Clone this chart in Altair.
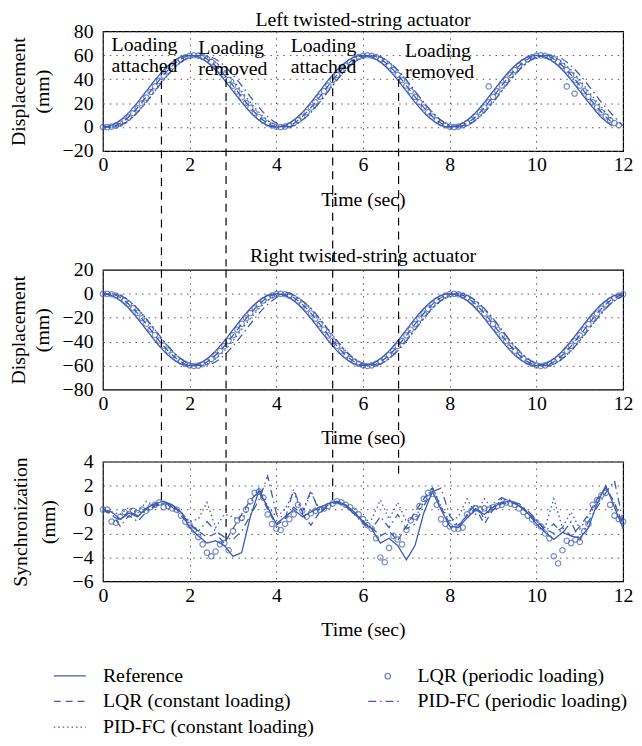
import altair as alt
import pandas as pd

BLUE = "#3d5cb3"
FONT = "Liberation Serif"

# ---------------- series names / legend order (column-major, 3 rows) ----------------
SERIES = ["Reference", "LQR (constant loading)", "PID-FC (constant loading)",
          "LQR (periodic loading)", "PID-FC (periodic loading)"]
# the periodic LQR run is drawn with circles, so its line sample is left empty
DASHES = [[1, 0], [7, 5], [1.5, 3], [0, 1000], [8, 4, 1.5, 4]]
CIRCLE_SERIES = ["LQR (periodic loading)"]

# ---------------- time grids ----------------
T_LINE = [i * 0.25 for i in range(49)]     # 0 .. 12 s
T_CIRC = [i * 0.1 for i in range(121)]     # 0 .. 12 s
T_SYNC = [i * 0.2 for i in range(61)]      # 0 .. 12 s
T_SYNC_C = [i * 0.1 for i in range(121)]   # 0 .. 12 s

# ---------------- Left twisted-string actuator (mm) ----------------
L_REF = [0, 2.3, 8.8, 18.5, 30, 41.5, 51.2, 57.7, 60, 57.7, 51.2, 41.5, 30, 18.5, 8.8, 2.3,
         0, 2.3, 8.8, 18.5, 30, 41.5, 51.2, 57.7, 60, 57.7, 51.2, 41.5, 30, 18.5, 8.8, 2.3,
         0, 2.3, 8.8, 18.5, 30, 41.5, 51.2, 57.7, 60, 57.7, 51.2, 41.5, 30, 18.5, 8, 1, None]
L_LQRC = [0, 0.8, 5.7, 14.3, 25.3, 37, 47.6, 55.6, 59.6, 59.2, 54.3, 45.7, 34.7, 23, 12.4, 4.4,
          0.4, 0.8, 5.7, 14.3, 25.3, 37, 47.6, 55.6, 59.6, 59.2, 54.3, 45.7, 34.7, 23, 12.4, 4.4,
          0.4, 0.8, 5.7, 14.3, 25.3, 37, 47.6, 55.6, 59.6, 59.2, 54.3, 45.7, 34.7, 23, 12.4, 3.5, None]
L_PIDC = [0, 0.1, 3.3, 10.5, 20.7, 32.4, 43.6, 52.8, 58.5, 59.9, 56.7, 49.5, 39.3, 27.6, 16.4, 7.2,
          1.5, 0.1, 3.3, 10.5, 20.7, 32.4, 43.6, 52.8, 58.5, 59.9, 56.7, 49.5, 39.3, 27.6, 16.4, 7.2,
          1.5, 0.1, 3.3, 10.5, 20.7, 32.4, 43.6, 52.8, 58.5, 59.9, 56.7, 49.5, 39.3, 27.6, 16.4, 6, None]
L_PIDP = [0, 0.1, 3.3, 10.5, 20.7, 32.4, 43.6, 52.8, 58.5,
          59.9, 58.5, 52.8, 43.6, 32.4, 20.7, 10.5, 3.3,
          0.1, 3.3, 10.5, 20.7, 32.4, 43.6, 52.8, 58.5, 59.9, 56.7, 49.5, 39.3, 27.6, 16.4, 7.2, 1.5,
          0.1, 3.3, 10.5, 20.7, 32.4, 43.6, 52.8, 58.5, 59.9, 58.5, 52.8, 43.6, 32.4, 20.7, 10.5, 1.0]
L_LQRP = [0, 0, 0.4, 1.2, 2.9, 5.2, 8.1, 11.6, 15.6, 19.9, 24.6, 29.3, 34.0, 38.6, 43.0, 47.1,
          50.8, 54.0, 56.5, 58.4, 59.5, 60.0, 59.7, 58.7, 56.9, 54.5, 51.5, 47.9, 43.8, 39.3,
          34.6, 29.8, 25.0, 20.3, 16.0, 12.0, 8.4, 5.4, 3.0, 1.3,
          0.3, 0.0, 0.4, 1.5, 3.3, 5.8, 8.8, 12.4, 16.4, 20.7, 25.3, 30.0, 34.7, 39.3, 43.6, 47.6,
          51.2, 54.3, 56.7, 58.5, 59.6, 60.0, 59.6, 58.5, 56.7, 54.3, 51.2, 47.6, 43.6, 39.3,
          34.7, 30.0, 25.3, 20.7, 16.4, 12.4, 8.8, 5.7, 3.3, 1.5,
          0.4, 0.0, 0.4, 1.5, 3.3, 5.7, 8.8, 12.4, 16.4, 20.7, 25.3, 30.0, 34.7, 39.3, 43.6, 47.6,
          51.2, 54.3, 56.7, 58.5, 59.6, 60.0, 59.6, 58.5, 56.7, 54.3, 51.2, 47.6, 43.6, 39.3,
          34.7, 30.0, 25.3, 20.7, 16.4, 12.4, 8.8, 5.7, 3.3, 1.5, None]
L_OUT_T = [8.9, 10.7, 10.88]
L_OUT_V = [34, 34, 28]

# ---------------- Right twisted-string actuator (mm) ----------------
R_REF = [0, -2.3, -8.8, -18.5, -30, -41.5, -51.2, -57.7, -60, -57.7, -51.2, -41.5, -30, -18.5, -8.8, -2.3,
         0, -2.3, -8.8, -18.5, -30, -41.5, -51.2, -57.7, -60, -57.7, -51.2, -41.5, -30, -18.5, -8.8, -2.3,
         0, -2.3, -8.8, -18.5, -30, -41.5, -51.2, -57.7, -60, -57.7, -51.2, -41.5, -30, -18.5, -8.8, -2.3, 0]
R_LQRC = [0, -0.8, -5.7, -14.3, -25.3, -37, -47.6, -55.6, -59.6, -59.2, -54.3, -45.7, -34.7, -23, -12.4, -4.4,
          -0.4, -0.8, -5.7, -14.3, -25.3, -37, -47.6, -55.6, -59.6, -59.2, -54.3, -45.7, -34.7, -23, -12.4, -4.4,
          -0.4, -0.8, -5.7, -14.3, -25.3, -37, -47.6, -55.6, -59.6, -59.2, -54.3, -45.7, -34.7, -23, -12.4, -4.4, -0.4]
R_PIDC = [0, -0.1, -3.3, -10.5, -20.7, -32.4, -43.6, -52.8, -58.5, -59.9, -56.7, -49.5, -39.3, -27.6, -16.4, -7.2,
          -1.5, -0.1, -3.3, -10.5, -20.7, -32.4, -43.6, -52.8, -58.5, -59.9, -56.7, -49.5, -39.3, -27.6, -16.4, -7.2,
          -1.5, -0.1, -3.3, -10.5, -20.7, -32.4, -43.6, -52.8, -58.5, -59.9, -56.7, -49.5, -39.3, -27.6, -16.4, -7.2, -1.5]
R_PIDP = [0, -0.1, -3.3, -10.5, -20.7, -32.4, -43.6, -52.8, -58.5,
          -59.9, -58.5, -52.8, -43.6, -32.4, -20.7, -10.5, -3.3,
          1.0, -3.3, -10.5, -20.7, -32.4, -43.6, -52.8, -58.5, -59.9, -56.7, -49.5, -39.3, -27.6, -16.4, -7.2, -1.5,
          0.5, -3.3, -10.5, -20.7, -32.4, -43.6, -52.8, -58.5, -59.9, -56.7, -49.5, -39.3, -27.6, -16.4, -7.2, -1.5]
R_LQRP = [0, 0, -0.4, -1.4, -3.1, -5.5, -8.5, -12.0, -16.0, -20.3, -25.0, -29.7, -34.4, -39.0, -43.3, -47.4,
          -51.0, -54.1, -56.6, -58.5, -59.8, -60.3, -60.0, -58.9, -57.0, -54.5, -51.4, -47.8, -43.7, -39.3,
          -34.6, -29.9, -25.1, -20.5, -16.1, -12.1, -8.5, -5.5, -3.1, -1.4,
          -0.3, 0.0, -0.4, -1.5, -3.3, -5.7, -8.8, -12.4, -16.4, -20.7, -25.3, -30.0, -34.7, -39.3, -43.6, -47.6,
          -51.2, -54.3, -56.7, -58.5, -59.8, -60.3, -59.8, -58.5, -56.7, -54.3, -51.2, -47.6, -43.6, -39.3,
          -34.7, -30.0, -25.3, -20.7, -16.4, -12.4, -8.8, -5.7, -3.3, -1.5,
          -0.4, 0.0, -0.4, -1.5, -3.3, -5.7, -8.8, -12.4, -16.4, -20.7, -25.3, -30.0, -34.7, -39.3, -43.6, -47.6,
          -51.2, -54.3, -56.7, -58.5, -59.8, -60.3, -59.8, -58.5, -56.7, -54.3, -51.2, -47.6, -43.6, -39.3,
          -34.7, -30.0, -25.3, -20.7, -16.4, -12.4, -8.8, -5.7, -3.3, -1.5, -0.4]

# ---------------- Synchronization (mm) ----------------
S_REF = [0, -0.2, -0.8, -0.3, -0.6, 0.1, 0.5, 0.7, 0.4, -0.2, -1.5,
         -2.2, -2.8, -2.6, -3.0, -3.9, -3.6, -0.6, 1.6, 0.2, -1.2,
         -0.6, 0.0, -0.6, -0.2, 0.2, 0.5, 0.7, 0.4, -0.2, -1.0,
         -1.6, -2.8, -2.4, -3.0, -4.2, -3.0, -0.3, 1.5, 0.0, -1.4,
         -1.5, -0.7, 0.0, -0.4, 0.2, 0.6, 0.7, 0.3, -0.3, -1.2,
         -1.9, -2.5, -1.9, -2.2, -2.4, -1.5, 0.5, 2.0, 0.2, -1.6]
S_LQRC = [0, -0.5, -0.9, -0.2, -0.5, 0.0, 0.4, 0.6, 0.3, -0.3, -1.2,
          -1.8, -2.3, -2.0, -2.8, -1.6, -0.4, 0.8, 1.5, 0.0, -1.3,
          -0.8, 0.2, -0.4, -1.3, -0.2, 0.4, 0.6, 0.3, -0.3, -1.1,
          -1.5, -2.2, -1.8, -2.6, -1.4, -0.2, 0.9, 1.8, 0.2, -1.2,
          -1.3, -0.5, 0.1, -1.2, 0.0, 0.5, 0.6, 0.4, -0.2, -1.0,
          -1.6, -2.0, -1.5, -2.2, -1.4, -0.4, 0.9, 1.8, 0.6, -1.4]
S_PIDC = [0, -0.2, -0.4, 0.2, -0.3, 0.7, 0.3, 0.5, 0.3, -0.2, -1.0,
          -0.8, 0.6, -1.5, -0.4, -0.6, -1.0, 0.5, 1.8, 0.3, -0.6,
          0.0, 1.5, -0.3, 1.4, 0.0, 0.5, 0.7, 0.3, -0.3, -1.0,
          -0.8, 0.8, -0.8, 0.6, -1.0, -0.7, 0.6, 1.9, 0.3, -1.0,
          -0.6, 0.9, -0.4, 0.9, 0.0, 0.9, 0.8, 0.4, -0.3, -1.0,
          -1.5, 0.9, -1.5, -0.2, -1.6, -0.6, 0.8, 1.9, 0.5, -1.2]
S_PIDP = [0, -0.3, -1.4, -0.5, -1.0, -0.2, 0.3, 0.5, 0.2, -0.5, -1.3,
          -1.8, -1.0, -1.8, -2.3, -2.5, -1.8, -0.5, 0.8, 2.8, -0.3,
          -0.8, 1.7, -0.2, 1.6, -0.3, 0.3, 0.6, 0.3, -0.4, -1.2,
          -1.6, -0.6, -1.5, -0.4, -1.6, -1.2, 0.3, 1.5, 1.8, -0.5,
          -1.4, -0.4, 0.5, -0.8, 0.5, 1.0, 0.6, 0.5, -0.1, -0.8,
          -1.8, -1.2, -2.0, -1.0, -2.6, -1.0, 0.2, 1.4, 2.4, -1.0]
S_LQRP = [0, 0, -1.0, -1.1, -0.6, -0.2, -0.4, -0.1, -0.3, 0.0,
          -0.1, 0.2, 0.4, 0.6, 0.2, 0.3, 0.1, 0.0, -0.5, -1.0,
          -1.3, -1.7, -2.3, -2.9, -3.6, -3.9, -3.5, -2.9, -2.8, -3.4,
          -1.8, -0.9, -0.7, 0.0, 0.7, 1.4, 1.5, 1.0, -0.4, -1.2,
          -1.6, -1.7, -1.2, -0.8, -0.4, 0.4, -0.1, -0.6, -0.3, -0.1,
          0.0, 0.1, 0.3, 0.5, 0.7, 0.6, 0.4, 0.2, -0.1, -0.4,
          -0.8, -1.3, -1.6, -2.4, -4.0, -4.4, -3.2, -2.2, -2.5, -2.9,
          -1.7, -0.9, -0.6, 0.3, 0.9, 1.4, 1.3, 0.4, -0.8, -1.2,
          -1.4, -1.6, -1.6, -1.5, -0.4, -0.1, 0.1, 0.0, 0.1, 0.0,
          0.2, 0.3, 0.4, 0.6, 0.5, 0.4, 0.1, -0.2, -0.5, -0.8,
          -1.1, -1.4, -2.0, -2.4, -3.9, -4.5, -3.4, -2.6, -2.8, -2.5,
          -2.7, -1.8, -1.2, 0.4, 0.8, 1.2, 1.4, 0.4, -0.5, -0.8,
          -1.0]

# ---------------- loading events ----------------
EV_T = [1.35, 2.84, 5.3, 6.82]
EV_TOP = [50, 40, 44, 40]          # where the dashed line starts (left panel, mm)
EV_BOT = [0.8, -2.6, 0.8, 3.0]     # where it ends (synchronization panel, mm)

ANN_T = [0.2, 2.2, 4.33, 6.97]
ANN_V = [77, 74.5, 76, 72]
ANN_TEXT = ["Loading\nattached", "Loading\nremoved", "Loading\nattached", "Loading\nremoved"]

W, H = 526, 121
GAP12, GAP23 = 116.6, 70.7     # blank space between plot frames
TOP2, TOP3 = 22.8, 22.3        # room taken above frames 2 and 3 by title / axis title
SPACING = -TOP2


def lines_df(t, named):
    rows = []
    for name, vals in named:
        for ti, vi in zip(t, vals):
            if vi is not None:
                rows.append({"t": ti, "v": vi, "s": name})
    return pd.DataFrame(rows)


def pts_df(t, vals):
    return pd.DataFrame([{"t": ti, "v": vi, "p": CIRCLE_SERIES[0]}
                         for ti, vi in zip(t, vals) if vi is not None])


LEG = alt.Legend(
    title=None, orient="none", legendX=-48, legendY=637, columns=2,
    symbolType="M-1.2,0H1.2", symbolSize=729, symbolStrokeWidth=1.3,
    symbolStrokeColor=BLUE, symbolFillColor="transparent",
    labelFont=FONT, labelFontSize=20, labelColor="black", labelLimit=260,
    labelOffset=19, columnPadding=51, rowPadding=1,
)
LEG_C = alt.Legend(
    title=None, orient="none", legendX=283, legendY=647,
    symbolType="circle", symbolSize=30, symbolStrokeWidth=1.3,
    symbolStrokeColor=BLUE, symbolFillColor="transparent", labelExpr="''",
)
DASH_SCALE = alt.Scale(domain=SERIES, range=DASHES)
SHAPE_SCALE = alt.Scale(domain=CIRCLE_SERIES, range=["circle"])

XSC = alt.Scale(domain=[0, 12], nice=False, zero=False)
XAX = alt.Axis(values=[0, 2, 4, 6, 8, 10, 12], title="Time (sec)", labelPadding=4,
               titlePadding=15, labelOverlap=False)


def panel(ldf, pdf, ydom, yvals, ytitle, lh, tpad, interp, title=None, toff=-6):
    ysc = alt.Scale(domain=ydom, nice=False, zero=False)
    yax = alt.Axis(values=yvals, title=ytitle, labelPadding=10, titlePadding=tpad,
                   titleLineHeight=lh, labelOverlap=False)
    enc = dict(
        X=lambda f: alt.X(f, scale=XSC, axis=XAX),
        Y=lambda f: alt.Y(f, scale=ysc, axis=yax),
    )
    lines = alt.Chart(ldf).mark_line(strokeWidth=1.3, color=BLUE, interpolate=interp).encode(
        x=enc["X"]("t:Q"), y=enc["Y"]("v:Q"),
        strokeDash=alt.StrokeDash("s:N", scale=DASH_SCALE, legend=LEG))
    pts = alt.Chart(pdf).mark_point(filled=False, size=30, strokeWidth=1.2,
                                    color=BLUE).encode(
        x=enc["X"]("t:Q"), y=enc["Y"]("v:Q"),
        shape=alt.Shape("p:N", scale=SHAPE_SCALE, legend=LEG_C))
    props = dict(width=W, height=H)
    if title:
        props["title"] = alt.TitleParams(title, font=FONT, fontSize=20, fontWeight="normal",
                                         color="black", offset=toff, anchor="middle")
    return lines, pts, props, enc


ev = pd.DataFrame({"t": EV_T, "top": EV_TOP, "bot": EV_BOT})
ann = pd.DataFrame({"t": ANN_T, "v": ANN_V, "label": ANN_TEXT})
rule_style = dict(color="black", strokeDash=[8, 6], strokeWidth=1.2)

# Panel 1
l1, p1, pr1, e1 = panel(
    lines_df(T_LINE, [("Reference", L_REF), ("LQR (constant loading)", L_LQRC),
                      ("PID-FC (constant loading)", L_PIDC), ("PID-FC (periodic loading)", L_PIDP)]),
    pd.concat([pts_df(T_CIRC, L_LQRP), pts_df(L_OUT_T, L_OUT_V)]),
    [-20, 80], [-20, 0, 20, 40, 60, 80], ["Displacement", "(mm)"], 24, 10, "monotone",
    "Left twisted-string actuator", toff=-9)
r1 = alt.Chart(ev).mark_rule(**rule_style).encode(
    x=e1["X"]("t:Q"), y=e1["Y"]("top:Q"), y2=alt.value(H + GAP12))
a1 = alt.Chart(ann).mark_text(align="left", baseline="top", lineBreak="\n", font=FONT,
                              fontSize=20, lineHeight=21, color="black").encode(
    x=e1["X"]("t:Q"), y=e1["Y"]("v:Q"), text="label:N")
c1 = alt.layer(l1, p1, r1, a1).properties(**pr1)

# Panel 2
l2, p2, pr2, e2 = panel(
    lines_df(T_LINE, [("Reference", R_REF), ("LQR (constant loading)", R_LQRC),
                      ("PID-FC (constant loading)", R_PIDC), ("PID-FC (periodic loading)", R_PIDP)]),
    pts_df(T_CIRC, R_LQRP),
    [-80, 20], [-80, -60, -40, -20, 0, 20], ["Displacement", "(mm)"], 24, 10, "monotone",
    "Right twisted-string actuator")
D2 = GAP23 - TOP3 - SPACING
r2 = alt.Chart(ev).mark_rule(**rule_style).encode(
    x=e2["X"]("t:Q"), y=alt.value(0), y2=alt.value(H + D2))
c2 = alt.layer(l2, p2, r2).properties(**pr2)

# Panel 3
l3, p3, pr3, e3 = panel(
    lines_df(T_SYNC, [("Reference", S_REF), ("LQR (constant loading)", S_LQRC),
                      ("PID-FC (constant loading)", S_PIDC), ("PID-FC (periodic loading)", S_PIDP)]),
    pts_df(T_SYNC_C, S_LQRP),
    [-6, 4], [-6, -4, -2, 0, 2, 4], ["Synchronization", "(mm)"], 28, 14, "linear")
r3 = alt.Chart(ev).mark_rule(**rule_style).encode(
    x=e3["X"]("t:Q"), y=e3["Y"]("bot:Q"), y2=alt.value(max(D2 - GAP23, 0)))
c3 = alt.layer(l3, p3, r3).properties(**pr3)

chart = alt.vconcat(c1, c2, c3, spacing=SPACING).properties(
    padding={"left": 0, "top": -2.5, "right": 0, "bottom": 0}, background="white"
).configure_view(stroke="black", strokeWidth=1.2).configure_axis(
    labelFont=FONT, titleFont=FONT, labelFontSize=20, titleFontSize=20,
    labelColor="black", titleColor="black", titleFontWeight="normal",
    grid=True, gridColor="#555", gridDash=[1.5, 5], gridWidth=1,
    ticks=False, domain=False, labelFlush=False, labelOverlap=False,
)

chart.save("out.html", embed_options={"renderer": "svg", "actions": False})
